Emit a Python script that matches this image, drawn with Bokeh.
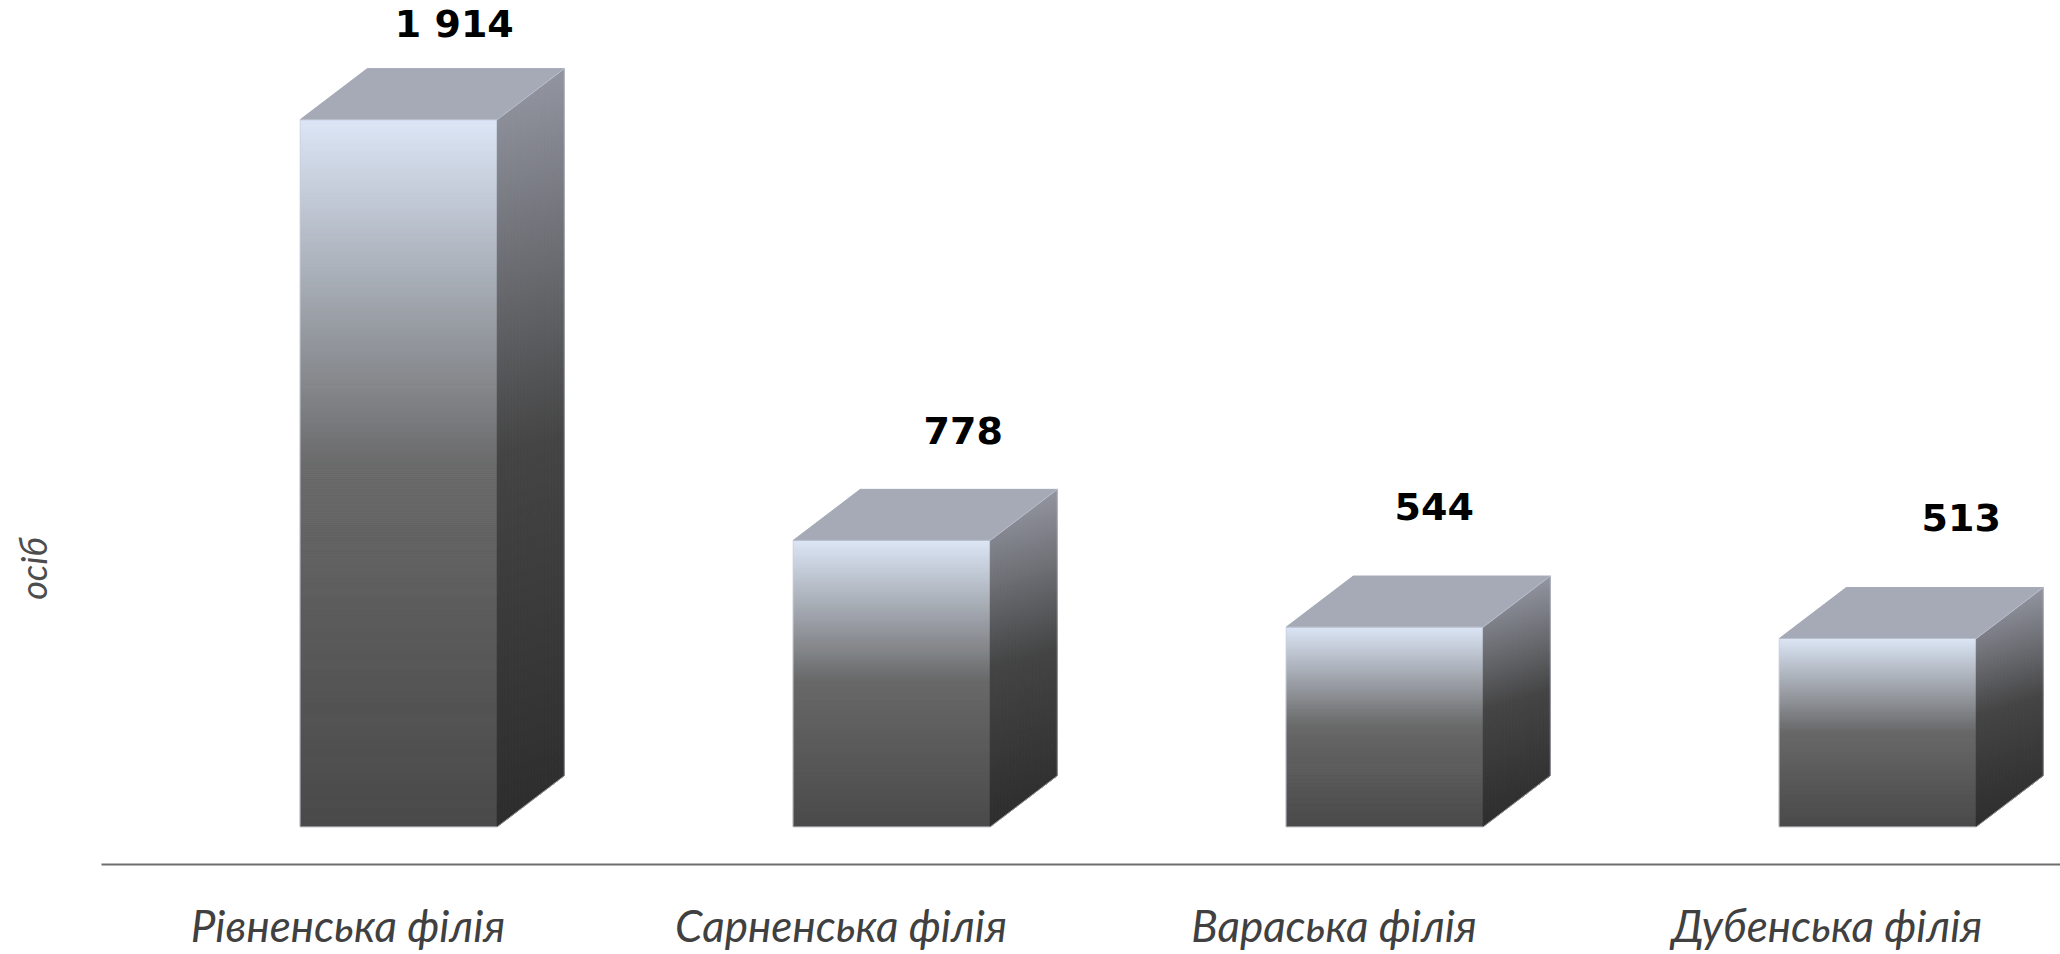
from bokeh.plotting import figure, ColumnDataSource
from bokeh.models import Range1d, FixedTicker, Label
from bokeh.embed import file_html
from bokeh.resources import INLINE

# ---- data -------------------------------------------------------------
categories = ["Рівненська філія", "Сарненська філія", "Вараська філія", "Дубенська філія"]
values = [1914, 778, 544, 513]
value_labels = ["1 914", "778", "544", "513"]
unit_label = "осіб"

# ---- layout / style ----------------------------------------------------
W, H = 2060, 954
AXIS_L, FRAME_B = 101, 90                # axis line start and bottom margin, px
BAND_PX = 493.0
PX_PER_UNIT = 0.3704
FLOOR_VALUE = 5                          # bars stand slightly above the zero line
Y_MIN, Y_MAX = -97.2, 2235.6
X_MIN = -AXIS_L / BAND_PX
X_MAX = (W - AXIS_L) / BAND_PX
BAR_W = 197 / BAND_PX
BAR_SHIFT = 0.103                        # front face centre relative to the band centre
DEPTH_X = 67 / BAND_PX
DEPTH_Y = 51 / PX_PER_UNIT
LABEL_DX = [22, 38, 16, 50]              # hand-placed value labels, px
LABEL_DY = [-45, -59, -70, -70]

FRONT_STOPS = [(0.0, (220, 230, 246)), (0.5, (104, 104, 104)), (1.0, (74, 74, 74))]
SIDE_STOPS = [(0.0, (146, 149, 160)), (0.5, (68, 68, 68)), (1.0, (45, 45, 45))]
TOP_COLOR = "#a5aab6"
EDGE_COLOR = "#c8cdd8"


def shade(stops, t):
    t = max(0.0, min(1.0, t))
    for (t0, c0), (t1, c1) in zip(stops, stops[1:]):
        if t <= t1:
            f = (t - t0) / (t1 - t0)
            return "#%02x%02x%02x" % tuple(round(a + (b - a) * f) for a, b in zip(c0, c1))
    return "#%02x%02x%02x" % stops[-1][1]


def clip(poly, fn):
    """Keep the part of a polygon (a, y) where fn(point) >= 0."""
    out = []
    for i, pt in enumerate(poly):
        nx = poly[(i + 1) % len(poly)]
        f0, f1 = fn(pt), fn(nx)
        if f0 >= 0:
            out.append(pt)
        if (f0 >= 0) != (f1 >= 0):
            s = f0 / (f0 - f1)
            out.append((pt[0] + (nx[0] - pt[0]) * s, pt[1] + (nx[1] - pt[1]) * s))
    return out


p = figure(width=W, height=H, output_backend="svg", toolbar_location=None,
           x_range=Range1d(X_MIN, X_MAX), y_range=Range1d(Y_MIN, Y_MAX),
           min_border_left=0, min_border_right=0, min_border_top=0, min_border_bottom=FRAME_B,
           background_fill_color="#ffffff", border_fill_color="#ffffff", outline_line_color=None)
p.grid.visible = False
p.yaxis.visible = False

centres = [i + 0.5 for i in range(len(categories))]
ax = p.xaxis[0]
ax.bounds = (0, X_MAX)
ax.ticker = FixedTicker(ticks=centres)
ax.major_label_overrides = {c: n for c, n in zip(centres, categories)}
ax.major_tick_line_color = None
ax.minor_tick_line_color = None
ax.axis_line_color = "#6e6e6e"
ax.axis_line_width = 2
ax.major_label_text_font = "Lato"
ax.major_label_text_font_style = "italic"
ax.major_label_text_font_size = "44px"
ax.major_label_text_color = "#404040"
ax.major_label_standoff = 28

front = dict(left=[], right=[], top=[], bottom=[], color=[])
side = dict(xs=[], ys=[], color=[])
tops = dict(xs=[], ys=[])
edges = dict(xs=[], ys=[])

for c, v in zip(centres, values):
    xl = c + BAR_SHIFT - BAR_W / 2
    xr = xl + BAR_W
    span = v - FLOOR_VALUE
    rows = max(10, int(span * PX_PER_UNIT / 2))
    for r in range(rows):
        t0 = r / rows
        t1 = (r + 1) / rows
        front["left"].append(xl)
        front["right"].append(xr)
        front["top"].append(v - span * t0)
        front["bottom"].append(v - span * t1)
        front["color"].append(shade(FRONT_STOPS, (t0 + t1) / 2))
    # side face: strips along the slightly slanted lines of its gradient
    slant = 20 / PX_PER_UNIT
    dtop = v + 31 / PX_PER_UNIT
    drange = dtop - FLOOR_VALUE
    face = [(0.0, v), (1.0, v + DEPTH_Y), (1.0, FLOOR_VALUE + DEPTH_Y), (0.0, FLOOR_VALUE)]
    strips = max(10, int(drange * PX_PER_UNIT / 2))
    for s in range(strips):
        hi = dtop - drange * s / strips
        lo = dtop - drange * (s + 1) / strips
        poly = clip(face, lambda q: hi - (q[1] - slant * q[0]))
        poly = clip(poly, lambda q: (q[1] - slant * q[0]) - lo) if poly else poly
        if len(poly) >= 3:
            side["xs"].append([xr + DEPTH_X * q[0] for q in poly])
            side["ys"].append([q[1] for q in poly])
            side["color"].append(shade(SIDE_STOPS, (s + 0.5) / strips))
    tops["xs"].append([xl, xr, xr + DEPTH_X, xl + DEPTH_X])
    tops["ys"].append([v, v, v + DEPTH_Y, v + DEPTH_Y])
    edges["xs"].append([xl, xl, xr, xr + DEPTH_X, xr + DEPTH_X, xr])
    edges["ys"].append([FLOOR_VALUE, v, v, v + DEPTH_Y, FLOOR_VALUE + DEPTH_Y, FLOOR_VALUE])
    edges["xs"].append([xr, xl])
    edges["ys"].append([FLOOR_VALUE, FLOOR_VALUE])

p.quad(left="left", right="right", top="top", bottom="bottom", fill_color="color",
       line_color="color", line_width=1, source=ColumnDataSource(front))
p.patches("xs", "ys", fill_color="color", line_color="color", line_width=1,
          source=ColumnDataSource(side))
p.patches("xs", "ys", fill_color=TOP_COLOR, line_color=TOP_COLOR, line_width=1,
          source=ColumnDataSource(tops))
p.multi_line("xs", "ys", line_color=EDGE_COLOR, line_width=1, line_alpha=0.6,
             source=ColumnDataSource(edges))

lab = ColumnDataSource(dict(
    x=[c + BAR_SHIFT + DEPTH_X / 2 for c in centres],
    y=[v + DEPTH_Y for v in values],
    text=value_labels, dx=LABEL_DX, dy=LABEL_DY))
p.text("x", "y", text="text", x_offset="dx", y_offset="dy", source=lab,
       text_align="center", text_baseline="middle", text_color="#000000",
       text_font={"value": "DejaVu Sans"}, text_font_style="bold", text_font_size="38px")

p.add_layout(Label(x=32, y=296, x_units="screen", y_units="screen", text=unit_label,
                   angle=90, angle_units="deg", text_align="center", text_baseline="middle",
                   text_font="Lato", text_font_style="italic",
                   text_font_size="36px", text_color="#4d4d4d"))

open("out.html", "w").write(file_html(p, INLINE))
